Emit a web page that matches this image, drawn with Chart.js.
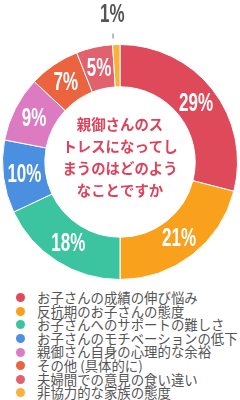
<!DOCTYPE html>
<html>
<head>
<meta charset="utf-8">
<script src="https://cdn.jsdelivr.net/npm/chart.js@4/dist/chart.umd.min.js"></script>
<style>
  html, body { margin: 0; padding: 0; background: #fff; width: 240px; height: 400px; overflow: hidden; }
  #wrap { position: relative; width: 240px; height: 286px; }
  #legend { position: absolute; left: 0; top: 291px; width: 240px; font-family: "Noto Sans CJK JP", sans-serif; font-size: 13.4px; color: #555; }
  #legend div { position: relative; height: 13.6px; line-height: 13.6px; padding-left: 37px; white-space: nowrap; }
  #legend span { position: absolute; left: 15.5px; top: 2.3px; width: 9px; height: 9px; border-radius: 50%; }
</style>
</head>
<body>
<div id="wrap"><canvas id="chart" width="240" height="286"></canvas></div>
<div id="legend"></div>
<script>
// 回答項目と割合
const categories = [
    'お子さんの成績の伸び悩み',
    '反抗期のお子さんの態度',
    'お子さんへのサポートの難しさ',
    'お子さんのモチベーションの低下',
    '親御さん自身の心理的な余裕',
    'その他 (具体的に)',
    '夫婦間での意見の食い違い',
    '非協力的な家族の態度'
];
const values = [29, 21, 18, 10, 9, 7, 5, 1];
const sliceLabels = ['29%', '21%', '18%', '10%', '9%', '7%', '5%', '1%'];
const colors = ['#DF4A5B', '#F9A11C', '#3CC4A0', '#4A8FE0', '#DC7BC2', '#EC6340', '#E1616E', '#FBB03A'];
const centerLines = ['親御さんのス', 'トレスになってし', 'まうのはどのよう', 'なことですか'];

// 凡例 (左揃え)
const legend = document.getElementById('legend');
categories.forEach((c, i) => {
    const row = document.createElement('div');
    row.innerHTML = '<span style="background:' + colors[i] + '"></span>' + c;
    legend.appendChild(row);
});

// スライスのラベルと中央テキスト
const labelPlugin = {
    id: 'labelPlugin',
    afterDatasetsDraw(chart) {
        const ctx = chart.ctx;
        const meta = chart.getDatasetMeta(0);
        meta.data.forEach((arc, i) => {
            const mid = (arc.startAngle + arc.endAngle) / 2;
            ctx.save();
            if (values[i] >= 3) {
                const r = (arc.innerRadius + arc.outerRadius) / 2;
                const x = arc.x + Math.cos(mid) * r;
                const y = arc.y + Math.sin(mid) * r;
                ctx.translate(x, y);
                ctx.scale(0.68, 1);
                ctx.fillStyle = '#fff';
                ctx.font = 'bold 25px "Liberation Sans Narrow", "Liberation Sans", sans-serif';
                ctx.textAlign = 'center';
                ctx.textBaseline = 'middle';
                ctx.fillText(sliceLabels[i], 0, 1);
            } else {
                // 小さいスライスは外側に表示
                const r1 = arc.outerRadius + 6;
                const r2 = arc.outerRadius + 11;
                ctx.strokeStyle = '#777';
                ctx.lineWidth = 1;
                ctx.beginPath();
                ctx.moveTo(arc.x + Math.cos(mid) * r1 - 3, arc.y + Math.sin(mid) * r1);
                ctx.lineTo(arc.x + Math.cos(mid) * r2 - 3, arc.y + Math.sin(mid) * r2);
                ctx.stroke();
                const r = arc.outerRadius + 30;
                ctx.translate(arc.x + Math.cos(mid) * r - 3, arc.y + Math.sin(mid) * r);
                ctx.scale(0.68, 1);
                ctx.fillStyle = '#555';
                ctx.font = 'bold 25px "Liberation Sans Narrow", "Liberation Sans", sans-serif';
                ctx.textAlign = 'center';
                ctx.textBaseline = 'middle';
                ctx.fillText(sliceLabels[i], 0, 1);
            }
            ctx.restore();
        });
        // 中央の質問文
        const cx = meta.data[0].x;
        ctx.save();
        ctx.fillStyle = '#E0415A';
        ctx.font = 'bold 14.4px "Noto Sans CJK JP", sans-serif';
        ctx.textAlign = 'center';
        ctx.textBaseline = 'middle';
        centerLines.forEach((line, i) => {
            ctx.fillText(line, cx, 125 + i * 22);
        });
        ctx.restore();
    }
};

new Chart(document.getElementById('chart'), {
    type: 'doughnut',
    data: {
        labels: categories,
        datasets: [{
            data: values,
            backgroundColor: colors,
            borderColor: '#fff',
            borderWidth: 1
        }]
    },
    options: {
        responsive: false,
        animation: false,
        cutout: '64%',
        layout: { padding: { top: 43, bottom: 5, left: 2, right: 2 } },
        plugins: {
            legend: { display: false },
            tooltip: { enabled: false }
        }
    },
    plugins: [labelPlugin]
});
</script>
</body>
</html>
